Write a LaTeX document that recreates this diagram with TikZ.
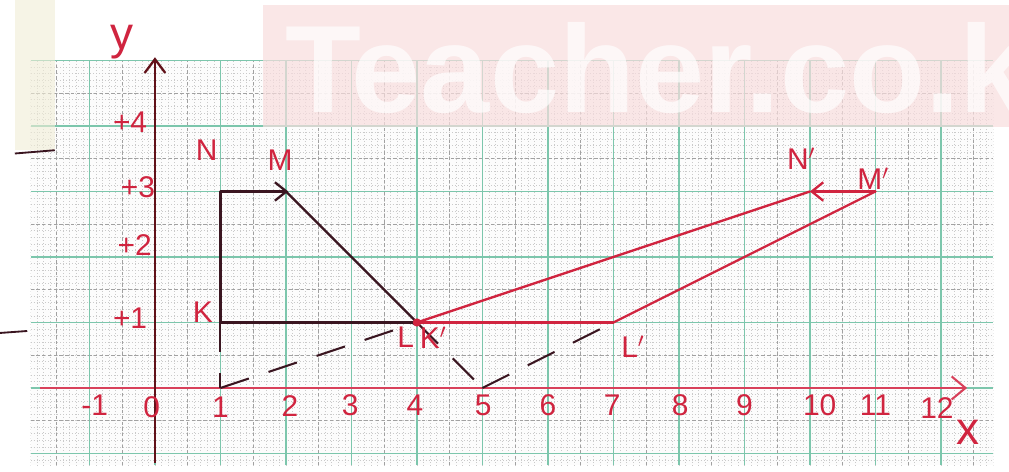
\documentclass[tikz,border=0pt]{standalone}
\usepackage{fontspec}
\setmainfont{Liberation Sans}
\usetikzlibrary{arrows.meta}
\definecolor{gridgreen}{HTML}{7CC6AC}
\definecolor{gridgray}{HTML}{8A8A8A}
\definecolor{inkred}{HTML}{D0243F}
\definecolor{inkdark}{HTML}{3A1520}
\definecolor{axisred}{HTML}{D8405A}
\definecolor{wmpink}{HTML}{F9DDDE}
\definecolor{tape}{HTML}{F1EDD6}
\begin{document}
\begin{tikzpicture}[x=1cm,y=1cm,
  lbl/.style={text=inkred, font=\fontsize{13}{13}\selectfont, inner sep=0pt},
  axlbl/.style={text=inkred, font=\fontsize{20}{20}\selectfont, inner sep=0pt},
  obj/.style={draw=inkdark, line width=1pt, line cap=round},
  img/.style={draw=inkred, line width=1pt, line cap=round},
  dsh/.style={draw=inkdark, line width=0.9pt, dash pattern=on 13pt off 9pt},
  finegrid/.style={draw=gridgray!45, line width=0.3pt, densely dotted},
  halfgrid/.style={draw=gridgray!80, line width=0.4pt, dash pattern=on 1.5pt off 1pt},
  majgrid/.style={draw=gridgreen, line width=0.55pt}]
\useasboundingbox (-2.366,-1.282) rectangle (13.04,5.924);
\fill[white] (-2.366,-1.282) rectangle (13.04,5.924);
% paper
\fill[white!98!gray] (-1.9,-1.18) rectangle (12.8,5.0);
\begin{scope}
\clip (-1.9,-1.18) rectangle (12.8,5.0);
\foreach \i in {-19,...,128} \draw[finegrid] (\i/10,-1.18) -- (\i/10,5.0);
\foreach \j in {-12,...,50} \draw[finegrid] (-1.9,\j/10) -- (12.8,\j/10);
\foreach \i in {-1.5,-0.5,...,12.5} \draw[halfgrid] (\i,-1.18) -- (\i,5.0);
\foreach \j in {-0.5,0.5,...,4.5} \draw[halfgrid] (-1.9,\j) -- (12.8,\j);
\foreach \i in {-1,...,12} \draw[majgrid] (\i,-1.18) -- (\i,5.0);
\foreach \j in {-1,...,5} \draw[majgrid] (-1.9,\j) -- (12.8,\j);
\end{scope}
% tape and edge marks
\fill[tape, opacity=0.6] (-2.14,3.63) rectangle (-1.53,5.924);
\draw[inkdark, line width=0.8pt] (-2.14,3.58) -- (-1.53,3.63);
\draw[inkdark, line width=0.8pt] (-2.366,0.84) -- (-1.95,0.87);
% watermark
\begin{scope}
\clip (1.65,3.98) rectangle (13.04,5.85);
\fill[wmpink, opacity=0.7] (1.65,3.98) rectangle (13.04,5.85);
\node[anchor=base west, inner sep=0pt, text=white, opacity=0.7,
      font=\fontsize{54}{54}\selectfont\bfseries] (wm) at (1.98,4.2) {Teacher.co.ke};
\end{scope}
% points
\coordinate (K) at (1,1);
\coordinate (N) at (1,3);
\coordinate (M) at (2,3);
\coordinate (L) at (4,1);
\coordinate (Kp) at (4,1);
\coordinate (Lp) at (7,1);
\coordinate (Mp) at (11,3);
\coordinate (Np) at (10,3);
\coordinate (A) at (1,0);
\coordinate (B) at (5,0);
% axes
\coordinate (xs) at (-1.75,0);
\coordinate (xe) at (12.4,0);
\coordinate (ys) at (0,-1.15);
\coordinate (ye) at (0,5.05);
\draw[axisred, line width=0.9pt, -{Straight Barb[length=6pt,width=10pt,line width=0.9pt]}] (xs) -- (xe);
\draw[inkdark!80!red, line width=1pt, -{Straight Barb[length=6pt,width=9pt,line width=1pt]}] (ys) -- (ye);
% dashed construction lines
\draw[dsh] (K) -- (A);
\draw[dsh] (A) -- (Kp);
\draw[dsh] (Kp) -- (B);
\draw[dsh] (B) -- (Lp);
% object
\draw[obj] (K) -- (N);
\draw[obj, -{Straight Barb[length=5pt,width=8pt,line width=1pt]}, shorten >=-1pt] (N) -- (M);
\draw[obj] (M) -- (L);
\draw[obj] (L) -- (K);
% image
\draw[img] (Kp) -- (Lp);
\draw[img] (Lp) -- (Mp);
\draw[img, -{Straight Barb[length=5pt,width=8pt,line width=1pt]}] (Mp) -- (Np);
\draw[img] (Kp) -- (Np);
\fill[inkred] (L) circle (1.8pt);
% axis labels
\node[axlbl] (ylab) at (-0.5,5.28) {y};
\node[axlbl] (xlab) at (12.41,-0.67) {x};
\node[lbl] (t-1) at (-0.92,-0.27) {-1};
\node[lbl] (t0) at (-0.05,-0.3) {0};
\node[lbl] (t1) at (1.0,-0.3) {1};
\node[lbl] (t2) at (2.06,-0.28) {2};
\node[lbl] (t3) at (2.98,-0.27) {3};
\node[lbl] (t4) at (3.97,-0.27) {4};
\node[lbl] (t5) at (5.01,-0.27) {5};
\node[lbl] (t6) at (6.0,-0.27) {6};
\node[lbl] (t7) at (6.98,-0.27) {7};
\node[lbl] (t8) at (8.02,-0.27) {8};
\node[lbl] (t9) at (9.0,-0.27) {9};
\node[lbl] (t10) at (10.15,-0.27) {10};
\node[lbl] (t11) at (11.0,-0.27) {11};
\node[lbl] (t12) at (11.94,-0.3) {12};
\node[lbl] (y4) at (-0.38,4.06) {+4};
\node[lbl] (y3) at (-0.26,3.07) {+3};
\node[lbl] (y2) at (-0.31,2.18) {+2};
\node[lbl] (y1) at (-0.38,1.07) {+1};
% point labels
\node[lbl] (lN) at (0.79,3.63) {N};
\node[lbl] (lM) at (1.91,3.48) {M};
\node[lbl] (lK) at (0.73,1.16) {K};
\node[lbl] (lL) at (3.83,0.78) {L};
\node[lbl] (lKp) at (4.25,0.76) {K$'$};
\node[lbl] (lLp) at (7.3,0.63) {L$'$};
\node[lbl] (lNp) at (9.87,3.5) {N$'$};
\node[lbl] (lMp) at (10.97,3.2) {M$'$};
\end{tikzpicture}
\end{document}
